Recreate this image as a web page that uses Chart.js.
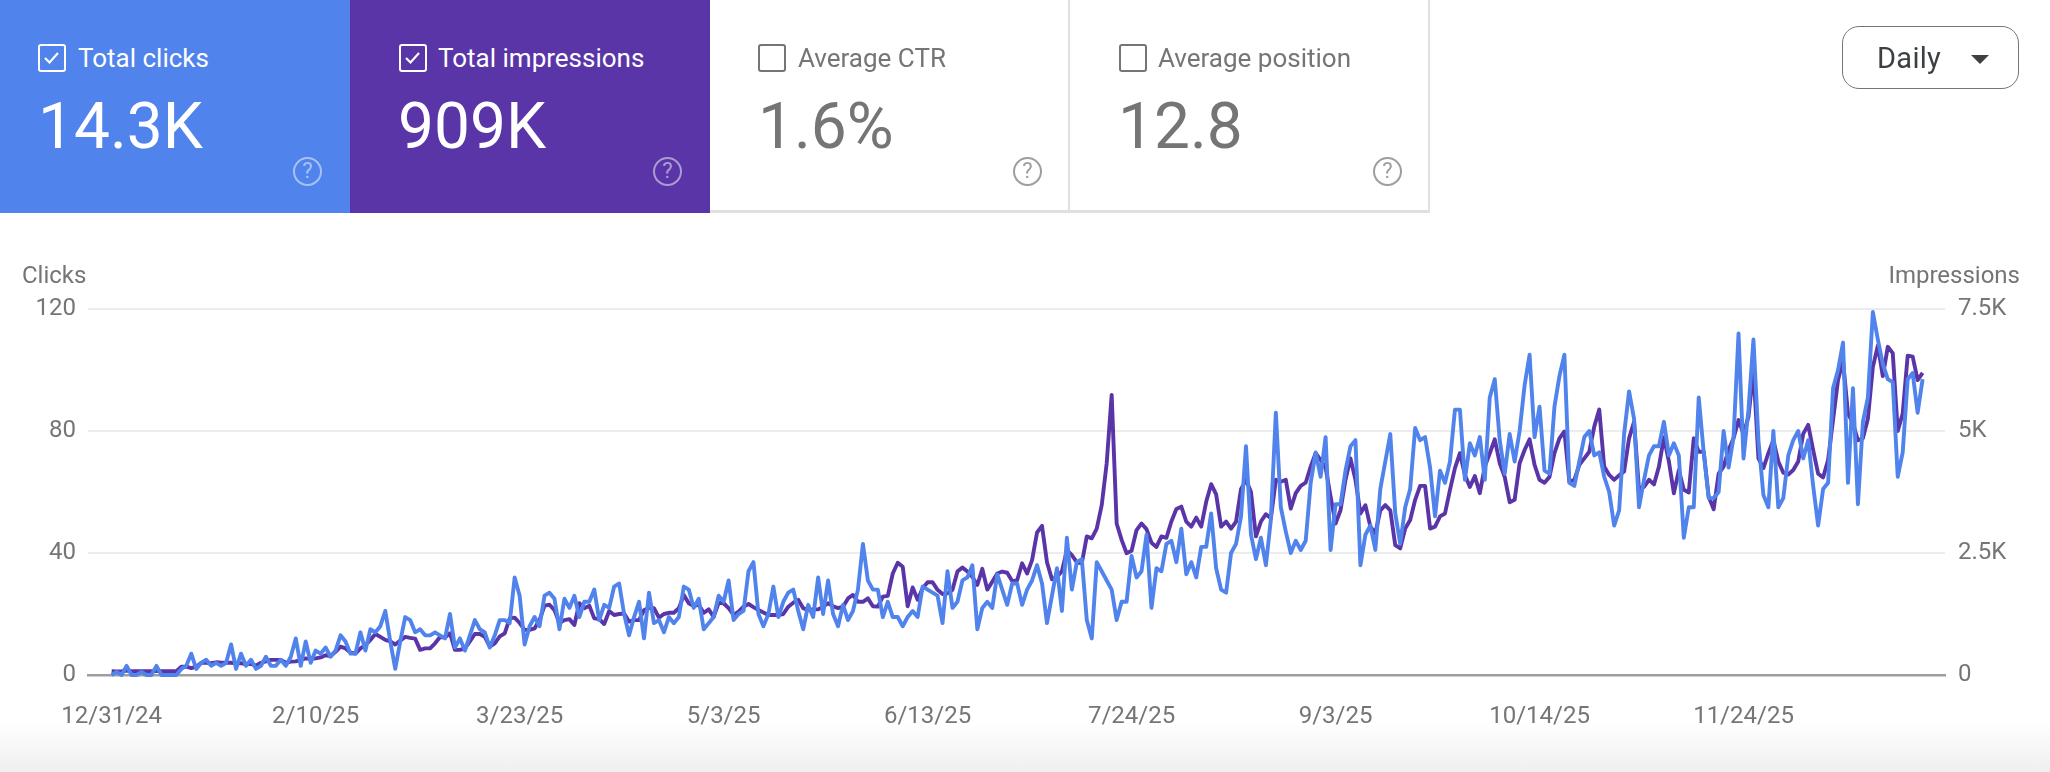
<!DOCTYPE html>
<html><head><meta charset="utf-8">
<script src="https://cdn.jsdelivr.net/npm/chart.js@4"></script>
<style>
html,body{margin:0;padding:0;background:#fff;width:2050px;height:772px;overflow:hidden;font-family:Roboto,sans-serif}
#fade{position:absolute;left:0;right:0;top:722px;height:50px;background:linear-gradient(#fff,#efefef)}
canvas{position:absolute;left:0;top:0}
.card{position:absolute;top:0;height:213px;box-sizing:border-box}
.white{border-bottom:3px solid #e0e0e0;border-right:2px solid #e0e0e0;color:#757575}
.box{position:absolute;top:44px;width:28px;height:28px;box-sizing:border-box;border:2.7px solid currentColor;border-radius:3px}
.box svg{position:absolute;left:2px;top:2px}
.lab{position:absolute;top:44px;font-size:26px;line-height:28px;white-space:nowrap}
.val{position:absolute;top:91px;font-size:64px;line-height:72px;white-space:nowrap}
.q{position:absolute;top:157px;width:29px;height:29px;box-sizing:border-box;border:2.6px solid currentColor;border-radius:50%;font-size:22px;line-height:24px;text-align:center;font-weight:400}
.axt{position:absolute;top:262px;font-size:24px;line-height:26px;color:#757575;white-space:nowrap}
#btn{position:absolute;left:1842px;top:26px;width:177px;height:63px;box-sizing:border-box;border:1.6px solid #757575;border-radius:17px;color:#3c4043}
#btn span{position:absolute;left:34px;top:16px;font-size:29px;line-height:30px;letter-spacing:.3px}
#btn i{position:absolute;left:128px;top:28px;width:0;height:0;border-left:9.5px solid transparent;border-right:9.5px solid transparent;border-top:9px solid #3c4043}
</style></head><body>
<div id="fade"></div>
<canvas id="c" width="2050" height="772"></canvas>
<div class="card" style="left:0;width:350px;background:#5083ec;color:#fff">
 <div class="box" style="left:38px"><svg width="19" height="19" viewBox="0 0 19 19"><path d="M3 10l4.5 4.5L16 5" fill="none" stroke="#fff" stroke-width="2.2"/></svg></div>
 <div class="lab" style="left:78px">Total clicks</div><div class="val" style="left:38px">14.3K</div>
 <div class="q" style="left:293px;opacity:.5">?</div></div>
<div class="card" style="left:350px;width:360px;background:#5935a8;color:#fff">
 <div class="box" style="left:48.5px"><svg width="19" height="19" viewBox="0 0 19 19"><path d="M3 10l4.5 4.5L16 5" fill="none" stroke="#fff" stroke-width="2.2"/></svg></div>
 <div class="lab" style="left:88px">Total impressions</div><div class="val" style="left:48px">909K</div>
 <div class="q" style="left:303px;opacity:.5">?</div></div>
<div class="card white" style="left:710px;width:360px">
 <div class="box" style="left:48px"></div>
 <div class="lab" style="left:88px">Average CTR</div><div class="val" style="left:48px">1.6%</div>
 <div class="q" style="left:303px;color:#9e9e9e">?</div></div>
<div class="card white" style="left:1070px;width:360px">
 <div class="box" style="left:48.5px"></div>
 <div class="lab" style="left:88px">Average position</div><div class="val" style="left:48px">12.8</div>
 <div class="q" style="left:303px;color:#9e9e9e">?</div></div>
<div id="btn"><span>Daily</span><i></i></div>
<div class="axt" style="left:22px">Clicks</div>
<div class="axt" style="right:30px">Impressions</div>
<script>
const tickDays=[0,41,82,123,164,205,246,287,328];
const tickLabels=["12/31/24","2/10/25","3/23/25","5/3/25","6/13/25","7/24/25","9/3/25","10/14/25","11/24/25"];
const clickTicks=[0,40,80,120];
const imprTicks=[0,2500,5000,7500];
const imprLabels=["0","2.5K","5K","7.5K"];
const clicks=[0,1,0,3,0,0,1,0,0,3,0,0,0,0,2,3,7,2,4,5,3,4,3,4,10,2,7,3,5,2,3,6,3,3,5,3,6,12,3,11,
4,8,7,9,6,8,13,11,7,7,14,8,15,14,16,21,11,2,11,19,18,14,15,13,13,14,13,12,20,9,12,8,13,18,15,14,9,13,18,
18,17,32,26,10,16,19,16,26,27,25,15,25,22,26,19,24,24,28,18,23,22,29,30,20,13,19,24,12,27,17,18,14,19,17,19,
29,28,22,25,15,17,19,26,24,31,18,20,21,34,37,20,16,20,29,19,24,27,28,21,15,23,19,32,20,31,20,16,23,18,21,28,
43,31,28,28,19,24,19,19,16,19,21,19,29,28,27,26,17,34,22,24,31,32,36,15,22,24,22,33,28,23,30,30,23,28,31,36,
30,17,26,35,21,45,28,37,38,18,12,37,34,31,28,18,24,24,39,32,34,46,22,35,34,43,44,37,48,33,37,32,42,42,53,35,
28,27,40,43,52,75,46,38,45,36,51,86,55,47,40,44,41,44,63,73,65,78,41,56,56,67,75,77,36,46,49,41,61,70,79,53,
43,55,61,81,77,78,68,52,67,63,70,87,87,64,76,72,78,64,91,97,77,66,79,70,80,95,105,78,88,67,66,88,98,105,63,62,
70,78,80,72,73,65,60,49,54,79,93,84,55,64,72,75,75,83,72,76,72,45,55,55,91,73,58,58,60,80,68,78,112,71,87,110,
77,59,55,80,55,58,72,77,80,71,77,62,49,61,63,94,100,109,63,94,56,83,91,119,110,102,97,96,65,73,97,99,86,97];
const impressions=[80,75,80,90,80,80,80,80,80,80,80,80,80,80,170,170,140,170,250,250,240,260,250,250,250,240,240,225,225,190,250,280,310,310,310,250,275,280,310,340,
330,340,360,405,390,475,580,545,460,440,545,610,720,840,780,720,690,625,705,780,760,745,515,545,545,650,780,770,855,515,515,545,690,840,840,780,580,650,790,
855,1160,1175,1065,925,925,955,1125,1420,1440,1330,1065,1125,1145,1025,1470,1370,1420,1160,1145,1045,1310,1230,1250,1260,1095,1125,1125,1330,1370,1370,1175,1250,1275,1275,1370,
1640,1470,1410,1440,1275,1345,1190,1480,1470,1370,1230,1300,1400,1455,1390,1330,1280,1230,1230,1230,1250,1400,1480,1540,1370,1330,1345,1345,1400,1470,1410,1370,1400,1570,1640,1500,
1500,1570,1410,1400,1605,1620,2080,2300,2220,1410,1795,1540,1775,1900,1900,1745,1660,1675,1745,2120,2205,2120,2010,1845,2175,1750,1910,2080,2120,2095,1925,1940,2290,2080,2355,2920,
3055,2310,1960,2010,2125,2560,2455,2310,2290,2840,2800,3000,3480,4340,5740,3105,2770,2495,2545,2970,3105,2990,2710,2625,2840,2810,3145,3400,3450,3145,3040,3225,3040,3550,3910,3700,
3040,3145,3000,3145,3810,4000,3750,2840,3145,3295,3210,4000,3960,4000,3410,3725,3875,3940,4270,4545,4405,4250,3655,3105,3375,4000,4440,4000,3310,3480,3040,2900,3375,3480,3375,2660,
2595,3000,3175,3590,3875,3875,3000,3040,3250,3310,3795,4240,4545,4100,3855,4075,3725,4270,4545,4830,4340,4060,3540,3590,4340,4610,4830,4305,4000,3940,4060,4545,4850,4990,3960,4000,
4305,4440,4575,5090,5440,4270,4100,4000,4090,4170,4850,5190,3795,3855,4000,3905,4270,4875,4375,3725,4200,3795,3740,4850,4575,4575,3655,3395,4125,4270,4610,4850,5225,4940,5295,6250,
4440,4240,4545,4810,4375,4145,4110,4200,4375,4940,5125,4610,4125,4050,4405,5225,6045,6440,5360,5155,4810,4850,5250,6310,6750,6125,6725,6595,5000,5360,6545,6525,6045,6190];

const tickFont={family:"Roboto",size:24};
const tickColor="#757575";
new Chart(document.getElementById("c"),{
 type:"line",
 data:{datasets:[
  {label:"Clicks",yAxisID:"y",data:clicks.map((v,i)=>({x:i,y:v})),borderColor:"#5083ec",borderWidth:3.9,pointRadius:0,tension:0,clip:false,borderJoinStyle:"round"},
  {label:"Impressions",yAxisID:"y2",data:impressions.map((v,i)=>({x:i,y:v})),borderColor:"#5935a8",borderWidth:3.9,pointRadius:0,tension:0,clip:false,borderJoinStyle:"round"}
 ]},
 options:{
  responsive:false,animation:false,events:[],
  layout:{padding:{top:309,left:0,right:0,bottom:0}},
  plugins:{legend:{display:false},tooltip:{enabled:false}},
  scales:{
   x:{type:"linear",min:-4.76,max:368.5,
      afterBuildTicks:s=>{s.ticks=tickDays.map(v=>({value:v}));},
      afterFit:s=>{s.height=97;},
      grid:{display:false,drawTicks:false},
      border:{display:true,color:"#9e9e9e",width:2.6},
      ticks:{autoSkip:false,maxRotation:0,padding:28,color:tickColor,font:tickFont,
       callback:(v)=>tickLabels[tickDays.indexOf(v)]}},
   y:{position:"left",min:0,max:120,
      afterBuildTicks:s=>{s.ticks=clickTicks.map(v=>({value:v}));},
      afterFit:s=>{s.width=88;},
      grid:{color:"#ececec",lineWidth:2,drawTicks:false},
      border:{display:false},
      ticks:{padding:12,color:tickColor,font:tickFont}},
   y2:{position:"right",min:0,max:7500,
      afterBuildTicks:s=>{s.ticks=imprTicks.map(v=>({value:v}));},
      afterFit:s=>{s.width=105;},
      grid:{display:false,drawTicks:false},
      border:{display:false},
      ticks:{padding:13,color:tickColor,font:tickFont,callback:v=>imprLabels[imprTicks.indexOf(v)]}}
  }
 }
});
</script>
</body></html>
